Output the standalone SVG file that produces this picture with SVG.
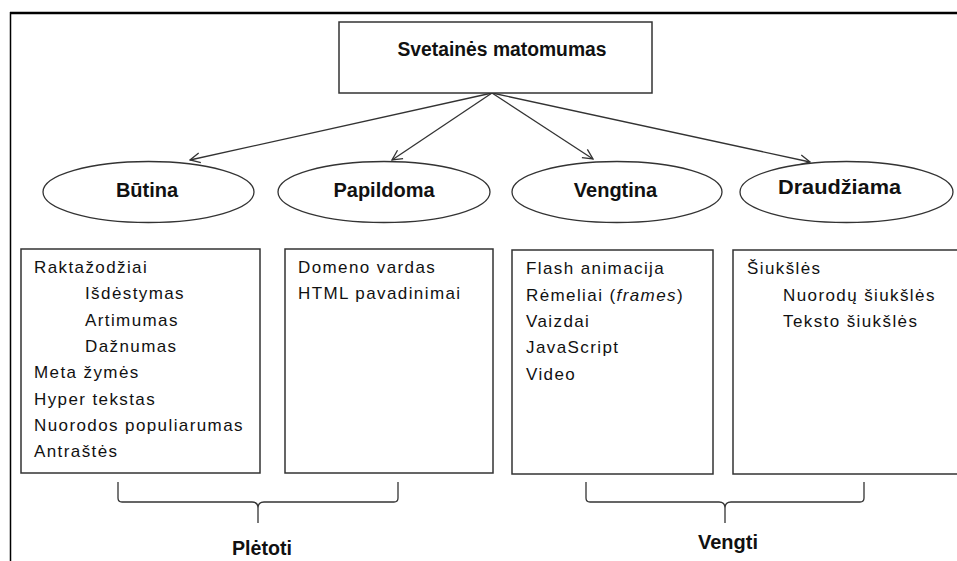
<svg xmlns="http://www.w3.org/2000/svg" width="957" height="561" viewBox="0 0 957 561">
<defs>
<style>
.frame{stroke:#000;fill:none}
.box{fill:#fff;stroke:#333;stroke-width:1.5}
.ell{fill:#fff;stroke:#333;stroke-width:1.3}
.lbl{font-family:"Liberation Sans",Arial,sans-serif;font-weight:bold;font-size:20px;fill:#111;text-anchor:middle}
.item{font-family:"Liberation Sans",Arial,sans-serif;font-size:17px;letter-spacing:1.4px;fill:#111}
.conn{stroke:#333;stroke-width:1.3;fill:none}
</style>
<marker id="arr" viewBox="0 0 12 12" refX="11" refY="6" markerWidth="12" markerHeight="12" markerUnits="userSpaceOnUse" orient="auto">
<path d="M1,1 L11,6 L1,11" fill="none" stroke="#333" stroke-width="1.3"/>
</marker>
</defs>
<rect width="957" height="561" fill="#fff"/>
<g id="frame">
<line class="frame" x1="10" y1="13" x2="957" y2="13" stroke-width="2.5"/>
<line class="frame" x1="10.5" y1="12" x2="10.5" y2="561" stroke-width="1.5"/>
</g>
<g id="connectors">
<line class="conn" x1="492" y1="93" x2="190" y2="160" marker-end="url(#arr)"/>
<line class="conn" x1="492" y1="93" x2="392" y2="160" marker-end="url(#arr)"/>
<line class="conn" x1="492" y1="93" x2="593" y2="159" marker-end="url(#arr)"/>
<line class="conn" x1="492" y1="93" x2="810" y2="162" marker-end="url(#arr)"/>
</g>
<g id="root">
<rect class="box" x="339" y="22" width="313" height="71"/>
<text class="lbl" x="502" y="56" font-size="21" textLength="209" lengthAdjust="spacingAndGlyphs">Svetainės matomumas</text>
</g>
<g id="butina">
<ellipse class="ell" cx="148.5" cy="192" rx="105.5" ry="30.5"/>
<text class="lbl" x="147" y="197">Būtina</text>
</g>
<g id="papildoma">
<ellipse class="ell" cx="384" cy="192" rx="106" ry="30.5"/>
<text class="lbl" x="384" y="197">Papildoma</text>
</g>
<g id="vengtina">
<ellipse class="ell" cx="617" cy="192" rx="105" ry="30.5"/>
<text class="lbl" x="615.5" y="197">Vengtina</text>
</g>
<g id="draudziama">
<ellipse class="ell" cx="846.5" cy="192" rx="106.5" ry="30.5"/>
<text class="lbl" x="839.5" y="194" textLength="123" lengthAdjust="spacingAndGlyphs">Draudžiama</text>
</g>
<g id="list-butina">
<rect class="box" x="21" y="249" width="239" height="224"/>
<text class="item" x="34" y="273">Raktažodžiai</text>
<text class="item" x="85" y="299">Išdėstymas</text>
<text class="item" x="85" y="325.5">Artimumas</text>
<text class="item" x="85" y="352">Dažnumas</text>
<text class="item" x="34" y="378">Meta žymės</text>
<text class="item" x="34" y="404.5">Hyper tekstas</text>
<text class="item" x="34" y="431">Nuorodos populiarumas</text>
<text class="item" x="34" y="457">Antraštės</text>
</g>
<g id="list-papildoma">
<rect class="box" x="285" y="249" width="208" height="224"/>
<text class="item" x="298" y="273">Domeno vardas</text>
<text class="item" x="298" y="299">HTML pavadinimai</text>
</g>
<g id="list-vengtina">
<rect class="box" x="512" y="250" width="201" height="224"/>
<text class="item" x="526" y="274">Flash animacija</text>
<text class="item" x="526" y="301">Rėmeliai (<tspan font-style="italic">frames</tspan>)</text>
<text class="item" x="526" y="327">Vaizdai</text>
<text class="item" x="526" y="353">JavaScript</text>
<text class="item" x="526" y="380">Video</text>
</g>
<g id="list-draudziama">
<rect class="box" x="733" y="250" width="230" height="224"/>
<text class="item" x="747" y="274">Šiukšlės</text>
<text class="item" x="783" y="301">Nuorodų šiukšlės</text>
<text class="item" x="783" y="327">Teksto šiukšlės</text>
</g>
<g id="brace-pletoti">
<path class="conn" d="M118,482 V498 Q118,502 122,502 H252 Q258,502 258,508 V523 M258,508 Q258,502 264,502 H394 Q398,502 398,498 V482"/>
<text class="lbl" x="262" y="555" font-size="21" textLength="60" lengthAdjust="spacingAndGlyphs">Plėtoti</text>
</g>
<g id="brace-vengti">
<path class="conn" d="M586,482 V498 Q586,502 590,502 H719 Q725,502 725,508 V523 M725,508 Q725,502 731,502 H860 Q864,502 864,498 V482"/>
<text class="lbl" x="728" y="549">Vengti</text>
</g>
</svg>
